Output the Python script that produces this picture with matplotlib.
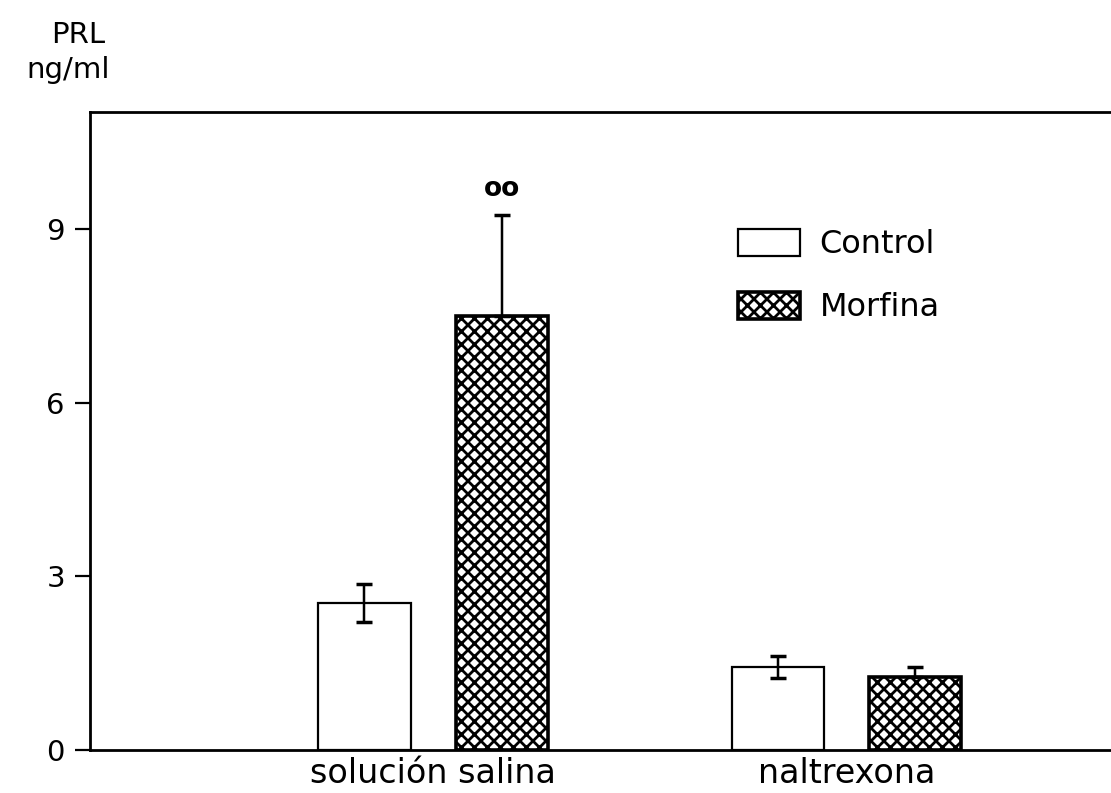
import matplotlib
matplotlib.use("Agg")
import matplotlib.pyplot as plt
import numpy as np

groups = ["solución salina", "naltrexona"]
series = ["Control", "Morfina"]
control_vals = [2.54, 1.43]
control_err = [0.33, 0.19]
morfina_vals = [7.50, 1.26]
morfina_err = [1.74, 0.17]
yticks = [0, 3, 6, 9]
signif = ["oo", ""]

DPI = 117
S = 100 / DPI  # convert "points at 100 dpi" to points at DPI

plt.rcParams['font.family'] = ['DejaVu Sans']
plt.rcParams['hatch.linewidth'] = 2.0 * S
plt.rcParams['hatch.color'] = 'black'

W, H = 1111, 793
fig = plt.figure(figsize=(W/DPI, H/DPI), dpi=DPI)
ax = fig.add_axes([90/W, (H-750)/H, 1 - 90/W, (750-112)/H])

x = np.arange(len(groups))
off = 0.166
bw = 0.223

ax.bar(x - off, control_vals, bw, color='white', edgecolor='black', linewidth=1.6*S,
       label=series[0], zorder=2)
ax.bar(x + off, morfina_vals, bw, color='white', edgecolor='black', linewidth=2.6*S,
       hatch='xxx', label=series[1], zorder=2)

ax.errorbar(x - off, control_vals, yerr=control_err, fmt='none', ecolor='black',
            elinewidth=1.8*S, capsize=6*S, capthick=2.5*S, zorder=3)
ax.errorbar(x + off, morfina_vals, yerr=[np.zeros(len(morfina_err)), morfina_err],
            fmt='none', ecolor='black', elinewidth=1.8*S, capsize=6*S, capthick=2.5*S,
            zorder=3)

for xi, v, e, s in zip(x + off, morfina_vals, morfina_err, signif):
    if s:
        ax.text(xi, v + e + 0.22, s, ha='center', va='bottom', fontsize=19*S,
                fontweight='bold')

ax.set_xlim(-0.83, 1.64)
ax.set_ylim(0, 11.02)
ax.set_yticks(yticks)
ax.set_yticklabels([str(t) for t in yticks], fontsize=21*S)
ax.set_xticks(x)
ax.set_xticklabels(groups, fontsize=24*S)
ax.tick_params(axis='x', length=0, pad=5*S)
ax.tick_params(axis='y', direction='out', length=11*S, width=1.6*S, pad=7*S)

for sp in ['left', 'bottom', 'top']:
    ax.spines[sp].set_linewidth(2.0*S)
ax.spines['right'].set_visible(False)

fig.text(78/W, 1 - 35/H, "PRL", ha='center', va='center', fontsize=21*S)
fig.text(68/W, 1 - 70/H, "ng/ml", ha='center', va='center', fontsize=21*S)

leg = ax.legend(loc='upper left', bbox_to_anchor=(738/W, 1 - 229/H),
                bbox_transform=fig.transFigure, frameon=False, fontsize=23*S,
                handlelength=1.95, handleheight=0.9, handletextpad=0.6,
                labelspacing=1.0, borderpad=0, borderaxespad=0)

fig.savefig("out.png", dpi=DPI)
